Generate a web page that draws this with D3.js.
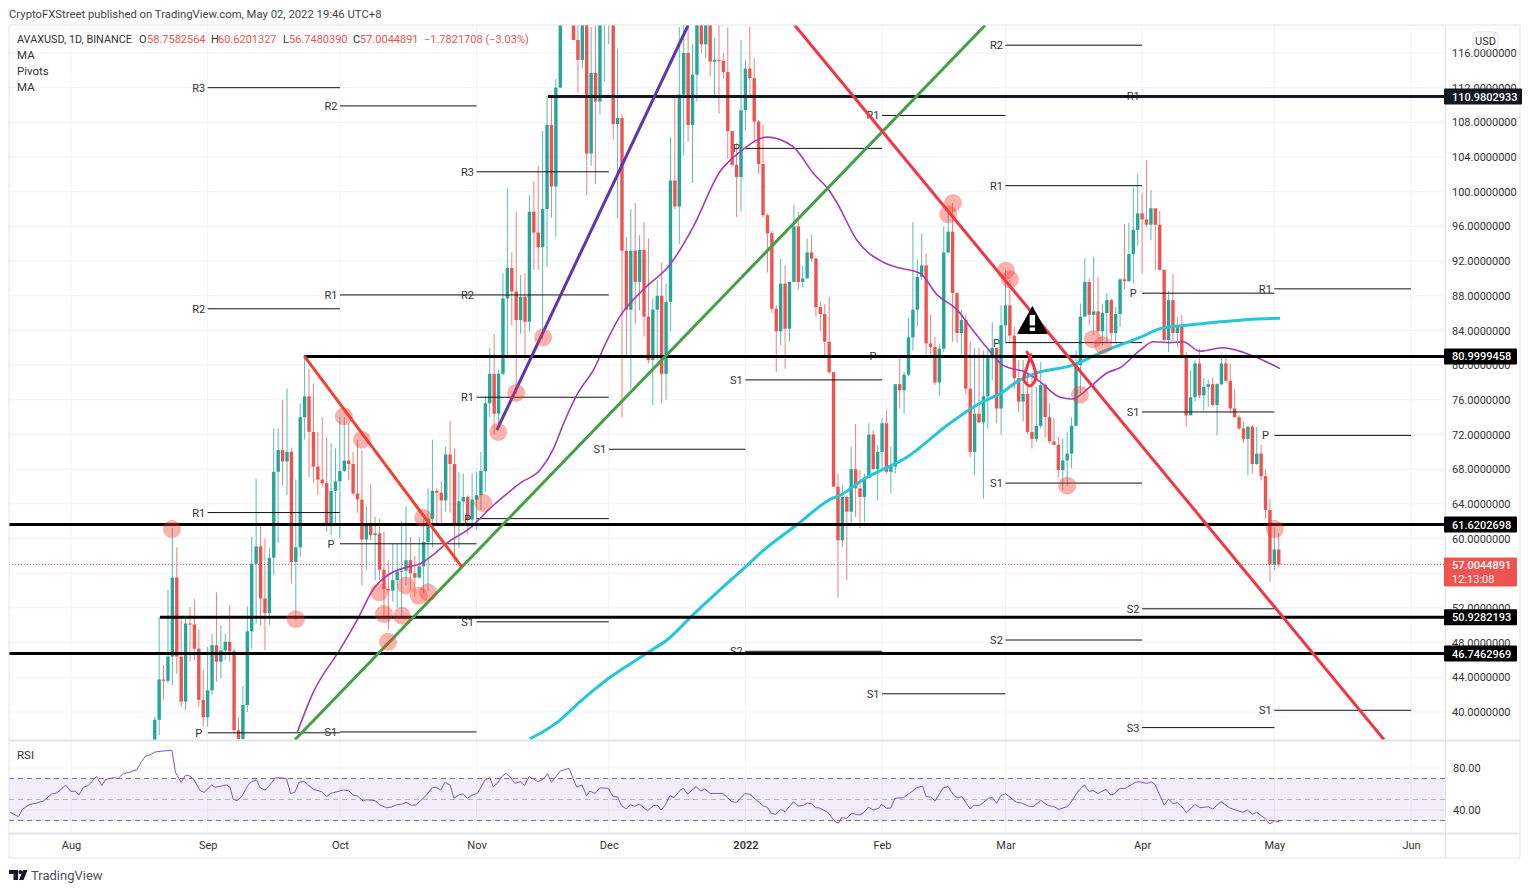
<!DOCTYPE html>
<html>
<head>
<meta charset="utf-8">
<title>AVAXUSD</title>
<script src="https://cdn.jsdelivr.net/npm/d3@7"></script>
<style>
    body { margin: 0; background: #fff; }
    text { font-family: Roboto, "Liberation Sans", sans-serif; }
</style>
</head>
<body>
<script>
// daily candles, first one is 2021-08-20, open = previous close
const firstDay = "2021-08-20";
const firstOpen = 36;
const closes = [
    39.1,43.75,43.6,46.4,55.5,46.4,41.2,50.2,50.1,47.3,41.4,39.4,42.5,47.7,45.8,47.1,48.1,47,37.9,36.9,
    40.8,49.3,57.1,59.1,53.1,51.4,57.8,67.7,70.2,68.9,70,57.3,59,74,76.4,72.3,68.3,66.8,66.4,61.5,
    65.5,66.6,67.8,69,68.6,65.2,64.5,59.9,61.6,60.4,60.6,56.4,54.2,54,55.2,56.2,56.3,57.5,56,55.5,
    56.8,59.6,62.3,65.5,65.3,64.4,69.7,68.6,61.6,64.3,64.8,62.2,64.5,65,67.8,75.6,79,74.4,79,87.7,
    91.2,88.5,85.2,87.9,85,97.7,95.3,93.6,98,107.7,100.6,112,122,128,135,117.5,115.2,122,104.4,113.7,
    110.4,119.5,122,124,107.8,108.5,93.2,86.4,93.2,89.6,93.3,85.6,80.6,86.4,88,79,87.3,101.3,98.3,111.2,
    116,107.7,113.5,122,117,122,115,115.2,115.1,113.8,107,103.1,101.7,109.4,114.2,113.1,108.1,103.2,97.3,95.2,
    86.5,83.9,89.4,84.2,89.6,96,89.6,90,93,92.3,86.7,85.9,82.7,79.2,66,59.8,64.8,63.1,68,65.8,
    64.8,67,72,68,70,73.3,67.7,68.3,77.8,77.1,78.9,83.2,86.4,90.2,91.5,82.5,82.1,78,81.9,93,
    95.4,88.3,83.7,85.2,77.3,70,74.4,73.4,76.4,80.8,82,75,84.6,86.9,83.4,78.5,75.8,76.7,72.3,71.5,
    73,77.7,74,71.2,70.8,67.9,69,69.8,73,80,85.6,89.6,85.8,86.2,83.9,86,87.5,83.7,85.9,89.9,
    89.7,92.8,95.6,97.5,96.8,96.2,98.1,96.2,91,82.9,87.5,83.7,84.6,81,74.2,76.3,80.2,76.5,77.5,77.8,
    75.4,77.8,80.2,78.2,75,74,72.7,71.5,72.9,68.6,69.8,67.2,63.3,57,58.75,57.0045
];
const highs = [
    39.5,51,45.4,54.1,61.2,59,51,51,52.1,53,49.5,44.8,47.5,49,53.8,50,49,52.3,47.3,39.4,
    43,52.2,60.2,66.9,61.7,60,58.9,72.7,72.7,76,77.3,70.5,66.8,75.6,81,79.6,77.9,72.3,74,71.7,
    71,70.4,74,74,73.3,70,71.4,70.2,63.7,66.3,62.5,62.3,60.8,57.5,59.4,59.4,62,63.7,60.2,58,
    60.2,62.3,65.8,71.4,65.8,66.6,70.6,73.6,70.4,67.7,67.5,65,67.5,67.7,70,76.4,82,83.6,79.5,90.6,
    100.4,93,97.7,90.4,90.6,99.6,101.2,103,107,111,111,113,125,135,140,136,122,125,124,119,
    119.2,122,126,128,125,116.5,109,94.8,98,98.7,95,96.5,94.6,87.7,89.8,91.8,89.4,106.3,110.9,119,
    120,121,117,125,125,125,122,117.7,120,116,119,107,105.6,117.5,115.2,119,115.4,108.3,107.7,97.5,
    95.5,86.9,92.3,91.5,89.6,98.5,97.7,91.5,94.6,95,92.4,87.3,87,87.9,79.2,67.5,66.2,65,70.6,73.2,
    67.9,67.5,73.3,72.5,70.8,73.9,74.8,70.6,77.8,81,79.2,85.4,96.5,92.2,95.2,92.9,85.8,83.3,82.5,96,
    97.5,98.7,88.3,86.4,85.8,82.7,82,82,81.7,81.7,85,82,86.9,91,89.8,84.4,80.6,80.6,79,78.6,
    77.5,80.4,77.9,75.6,73.9,71.7,71.5,72.3,74,81.7,87.1,92.3,90,92.5,90.2,87.1,88.3,87.7,86.7,90,
    96.3,96.4,100.5,102,99.9,103.6,100.2,98,97.8,91,88.6,90.5,85.6,85.8,81.5,79.4,80.6,81.9,78.5,78.3,
    78.6,77.9,81.3,81.3,80.2,77.2,74.2,73.5,73,73.1,72.9,70.8,68,64.6,61.3,60.62
];
const lows = [
    33,37.3,41.4,43.3,43.1,44.4,40.6,40.2,45.8,46,40.6,38.3,38.3,42,43.5,43.9,46,45.8,37.5,36,
    36.5,40,47.3,50.2,50,47.1,50,55.8,59.5,66.1,65,54.8,50.7,57.9,71.4,67.1,66.4,65,66,60.8,
    60.4,61.5,60,67.7,66.7,65,63,54.6,56.4,59.8,55.2,55.2,51,49.5,52.7,52,51,54.6,54,53.3,
    55.4,53.7,53.9,59,61.6,61.6,63.1,63,57.3,58.9,62,60.5,61.2,61,63.3,65.4,74,72,73,78.8,
    80.8,84.6,76.7,83.6,80.6,83.9,91,91,83,91.3,97,94.8,112,121,125,117.5,111.4,114.2,99.6,103,
    100.9,108.9,112.7,117,106,97,74,81,77.3,84.8,86.3,83.3,80.2,75.4,80.6,75.6,76,83.9,98,94,
    104.2,105.8,101,110.4,116,115.4,113.3,111,109,113,103.8,102.9,97.1,97.7,107.1,111,105.6,102.1,97,90.7,
    86,79.2,82.3,79.6,82.7,89.6,88.7,89,90.4,92,85.6,83.9,80.8,79,66,53.2,59,55.2,61.7,62.5,
    61.2,61.9,67.9,68,64.4,67.9,67.5,65.2,67.5,75,74.4,78.7,81.7,84.5,89.8,81.2,81,77.7,76.4,81.5,
    92.9,82.7,82.6,81.2,76.7,69.4,67.3,73.3,64.6,72.7,78.3,73.3,72,82.5,82.5,77.3,74.6,73.5,72,70.4,
    71.2,72.7,71.7,71,70.8,67.1,65.6,66.1,68.1,73.1,76.7,85.6,84.6,83.5,83.7,82.3,82.5,82.5,82.5,84.4,
    88.7,89.6,89.4,93.8,90.6,95.9,94.4,91,90.9,82.7,81.5,82.7,82.1,80.8,72.9,74.4,75.8,76.2,74.8,75.2,
    75.2,71.9,77.7,78,74.4,74,72.5,71,67.3,67.5,68.5,66.7,62.3,55,56.4,56.75
];

// moving averages, [days since 2021-08-01, value]
const maPurple = [[51.3,37.6],[54.9,42.2],[61,47.2],[64.9,50.6],[68.5,54.1],[71.9,55.8],[76.2,56.7],[79.2,57.1],[82.1,58.1],[85.3,59.5],
    [90.5,61.2],[95.1,63.5],[98.5,65],[101.9,66.4],[106.4,67.9],[109.3,70.2],[112.1,73.7],[114.8,76.6],[118.9,79.8],[121.1,82.3],
    [124.5,85.6],[129.8,88.7],[135.9,91.6],[141.1,95.9],[147.2,102.3],[151.8,104.6],[157.9,106.3],[163.8,105.2],[168.3,102.2],[172.2,100],
    [173.8,98.7],[178.3,94.4],[184.2,91.9],[188,91.2],[192.6,90.6],[196.5,88.1],[201,86.4],[203.3,84.9],[207.8,82],[211.4,80],
    [216.9,79.1],[219.8,78.1],[224.4,76.3],[227.1,76.1],[231.2,77.5],[235,79.1],[238,79.7],[242.5,81.7],[245.5,82.7],[249.3,82.6],
    [252.3,82.7],[256.1,81.6],[261.3,82],[265.9,81.5],[274.3,79.6]];
const maCyan = [[104.1,36.9],[110.3,38.8],[115.5,41.2],[122.3,44],[130.7,46.8],[135.2,48.3],[141.1,51.2],[147.9,54.4],[153.4,56.9],[156.3,58.3],
    [164.7,61.6],[172.9,64.7],[174.5,65],[179.7,66.8],[189.7,69.4],[199.4,73.3],[206.2,75.6],[211.4,76.9],[214.6,78.1],[219.1,79.1],
    [227.3,80],[233.4,81.4],[242.5,83.2],[247.7,84.3],[253.2,84.6],[260.7,85],[268.1,85.3],[274.3,85.4]];

// RSI
const rsiPoints = [[-13.8,37.8],[-11.9,33.6],[-11,40.9],[-9.3,45.4],[-7.8,46.6],[-6.3,48.5],[-4.4,55.2],[-3.1,56.5],[-1.2,63.8],[-0.1,57.7],
    [0.9,58],[1.8,54.3],[2.8,61.6],[3.9,63.2],[5.8,72],[7,63.2],[7.9,69.2],[9.6,70.8],[10.7,70.1],[11.9,74.9],
    [13,75.5],[14.9,78.4],[16,86],[16.9,91.4],[17.9,92.4],[19,95.2],[20.9,96.2],[22.9,96.8],[23.7,75.8],[25,66.3],
    [25.9,72.7],[26.8,72.7],[27.8,69.5],[29.3,58.4],[30.2,56.8],[31.9,63.8],[32.7,61.6],[35.3,63.8],[36.1,61.6],[36.8,50.1],
    [37.7,48.9],[38.7,52.7],[40.2,63.8],[41,67],[42.1,68.5],[42.9,61.2],[44,59],[44.8,62.2],[46.3,70.4],[47.3,70.8],
    [48.9,69.8],[49.8,55.8],[50.8,56.8],[51.7,66.3],[52.9,67.3],[55,59.6],[56.9,57.4],[58,52.7],[58.9,55.8],[61.8,59],
    [63,58.4],[64,54.3],[65,53.3],[66.3,48.5],[67,49.8],[69,48.9],[70.1,44.7],[71.6,42.2],[72.7,42.8],[73.9,45],
    [75,45.4],[76,47.3],[77.3,44.4],[78.3,45],[80.7,54.3],[82,61.6],[83,61.2],[83.9,59],[84.8,66.3],[86,63.8],
    [86.9,51.1],[88.2,54.9],[89,55.2],[89.9,51.1],[91.3,54.9],[92.2,55.8],[93.9,68.5],[95,70.8],[95.8,62.2],[96.7,65.4],
    [97.9,72.7],[98.8,74.9],[99.6,71.7],[100.7,65.4],[101.9,67],[102.9,63.2],[103.9,71.7],[106,67],[107.2,69.5],[108.1,74.6],
    [109,66.3],[111,77.1],[113,79.6],[114.7,61.9],[115.9,63.8],[117,53.6],[117.7,58],[118.9,55.8],[120,61.2],[121.9,60.6],
    [123,52.7],[124,52.4],[124.9,44.1],[126,40.9],[126.9,45],[127.9,43.5],[128.9,45.7],[130.8,39.3],[132.1,44.1],[133,44.7],
    [133.9,40],[134.8,44.7],[135.9,53.6],[136.8,51.7],[138.2,59],[138.9,60.6],[139.9,55.2],[141.8,62.2],[142.9,58],[143.8,60],
    [145,55.8],[147.9,55.8],[149.9,47.9],[151,47.3],[152.9,55.8],[154,54.9],[157,44.1],[158,42.5],[158.9,36.8],[159.9,35.8],
    [161,40.6],[162,38.4],[163.9,47.9],[165,43.8],[166.2,44.4],[167,46.6],[168,46],[168.9,42.2],[169.9,41.9],[171.8,37.4],
    [173.1,29.8],[174.1,27.3],[174.8,32.7],[176,32],[177.1,36.8],[179,35.2],[179.9,37.8],[180.9,42.8],[182,40],[183.2,41.6],
    [183.9,45.4],[185,41.6],[186,41.9],[186.9,51.1],[188.8,51.7],[190.7,57.4],[191.8,61.2],[193.2,62.8],[194,52.7],[195,52.4],
    [196,48.5],[197.9,61.2],[199,62.2],[200.2,54.3],[201.1,51.7],[202.1,52.7],[204,40.9],[204.9,44.7],[206.1,44.1],[208.1,51.1],
    [209,52],[210,46.3],[210.9,53.6],[212,55.5],[214.5,47.3],[215.7,46.6],[217.2,43.8],[218.3,43.1],[220,49.2],[221.7,44.1],
    [222.9,43.5],[224.1,40.6],[225.9,43.1],[226.6,45.7],[228.5,58],[229.9,63.8],[231,57.4],[231.8,58.7],[233,55.8],[234.8,59.7],
    [235.9,54.3],[236.8,55.8],[238,60.6],[239.1,60.3],[241.4,66.3],[242.4,67],[243.9,65.4],[245.2,66.6],[246,63.8],[248,44.7],
    [249,50.4],[250,46.3],[251,46.9],[251.7,44.7],[253.1,37.4],[255,45.4],[256.1,42.2],[258,43.1],[259,40.9],[260.9,47.9],
    [262.9,41.9],[265.8,37.8],[266.9,40],[268,35.8],[269,37.8],[270.9,32],[272,26.6],[273,29.8],[274.1,28.9]];

// monthly pivots
const monthStarts = ["2021-08-01","2021-09-01","2021-10-01","2021-11-01","2021-12-01","2022-01-01","2022-02-01","2022-03-01","2022-04-01","2022-05-01","2022-06-01"];
const monthLabels = ["Aug","Sep","Oct","Nov","Dec","2022","Feb","Mar","Apr","May","Jun"];
const pivotMonths = [1,1,1,1, 2,2,2,2, 3,3,3,3,3, 4, 5,5,5, 6,6,6, 7,7,7,7,7, 8,8,8,8,8, 9,9,9];
const pivotNames = ["R3","R2","R1","P", "R2","R1","P","S1", "R3","R2","R1","P","S1", "S1", "P","S1","S2", "R1","P","S1", "R2","R1","P","S1","S2", "R1","P","S1","S2","S3", "R1","P","S1"];
const pivotValues = [112,86.5,63,37.6, 109.9,88.1,59.4,37.7, 102.3,88.1,76.3,62.3,50.4, 70.3, 105,78.3,47, 108.8,81,42.1, 116.9,100.7,82.6,66.4,48.3, 111,88.3,74.6,51.9,38.2, 88.8,71.9,40.2];

// horizontal levels: value and first day they are drawn from (days since 2021-08-01)
const levelValues = [110.9802933, 80.9999458, 61.6202698, 50.9282193, 46.7462969];
const levelStart = [108.2, 52.9, -15, 20.2, -15];

// trend lines, [days, value]
const redLong = [[164.2,119.2],[297.9,36.8]];
const redShort = [[52.9,81.06],[88.7,56.7]];
const greenLine = [[50.8,36.8],[207.4,119.2]];
const purpleLine = [[96.6,72.5],[140,119.2]];
const loopMark = [[216.9,81.5],[218.2,80.2],[218.9,78.5],[217.6,77.6],[216.2,78.3],[216.9,79.8],[217.8,81.2]];
const touchPoints = [[22.9,61.1],[51,50.7],[61.9,74.1],[66,71.4],[69.9,53.8],[71,51.3],[71.9,48.1],[75.1,51.1],[76,54.6],[78.9,53.4],
    [81,53.8],[79.9,62.4],[93.5,64.1],[96.9,72.3],[101,76.8],[107.1,83.2],[200.1,98.7],[199,97.4],[212.1,90.9],[213,89.9],
    [231.8,83],[234.1,82.3],[228.9,76.6],[226,66.1],[273.1,61.1]];

const priceTicks = [116,112,108,104,100,96,92,88,84,80,76,72,68,64,60,52,48,44,40];
const rsiTicks = [80,40];
const lastPrice = 57.0044891;

const width = 1536, height = 892;
const pane = {left: 9, right: 1445, top: 25, bottom: 740, rsiBottom: 833, axisBottom: 858, outer: 1520};
const teal = "#26a69a", red = "#ef5350", gridColor = "#f0f3fa", borderColor = "#e0e3eb";

const parseDay = d3.utcParse("%Y-%m-%d");
const origin = parseDay("2021-08-01");
const dayDate = d => new Date(+origin + d * 864e5);

const x = d3.scaleUtc().domain([origin, parseDay("2022-06-01")]).range([71, 1411]);
const y = d3.scaleLinear().domain([116, 40]).range([53, 712]);
const yRsi = d3.scaleLinear().domain([80, 40]).range([768, 810]);
const xDay = d => x(dayDate(d));

const svg = d3.select("body").append("svg").attr("width", width).attr("height", height).style("display", "block");

svg.append("clipPath").attr("id", "mainClip").append("rect")
    .attr("x", pane.left).attr("y", pane.top).attr("width", pane.right - pane.left).attr("height", pane.bottom - pane.top);

// grid
const grid = svg.append("g").attr("stroke", gridColor);
grid.selectAll(".v").data(monthStarts).enter().append("line")
    .attr("x1", d => x(parseDay(d))).attr("x2", d => x(parseDay(d)))
    .attr("y1", pane.top).attr("y2", pane.rsiBottom);
grid.selectAll(".h").data(priceTicks.concat([56])).enter().append("line")
    .attr("x1", pane.left).attr("x2", pane.right).attr("y1", d => y(d)).attr("y2", d => y(d));
grid.selectAll(".r").data(rsiTicks).enter().append("line")
    .attr("x1", pane.left).attr("x2", pane.right).attr("y1", d => yRsi(d)).attr("y2", d => yRsi(d));

const main = svg.append("g").attr("clip-path", "url(#mainClip)");

// candles
const candleStart = d3.utcDay.count(origin, parseDay(firstDay));
const candles = closes.map((c, i) => ({
    day: candleStart + i,
    open: i ? closes[i - 1] : firstOpen,
    close: c,
    high: highs[i],
    low: lows[i]
}));
const candleG = main.append("g");
candleG.selectAll("line").data(candles).enter().append("line")
    .attr("x1", d => xDay(d.day)).attr("x2", d => xDay(d.day))
    .attr("y1", d => y(d.high)).attr("y2", d => y(d.low))
    .attr("stroke", d => d.close >= d.open ? teal : red)
    .attr("stroke-opacity", 0.75);
candleG.selectAll("rect").data(candles).enter().append("rect")
    .attr("x", d => xDay(d.day) - 1.7).attr("width", 3.4)
    .attr("y", d => y(Math.max(d.open, d.close)))
    .attr("height", d => Math.max(1, Math.abs(y(d.open) - y(d.close))))
    .attr("fill", d => d.close >= d.open ? teal : red);

// pivots
const pivotG = main.append("g");
pivotG.selectAll("line").data(pivotValues).enter().append("line")
    .attr("x1", (d, i) => x(parseDay(monthStarts[pivotMonths[i]])))
    .attr("x2", (d, i) => x(parseDay(monthStarts[pivotMonths[i] + 1])))
    .attr("y1", d => y(d)).attr("y2", d => y(d))
    .attr("stroke", "#111").attr("stroke-width", 1);
pivotG.selectAll("text").data(pivotValues).enter().append("text")
    .attr("x", (d, i) => x(parseDay(monthStarts[pivotMonths[i]])) - 9)
    .attr("y", d => y(d) + 4)
    .attr("text-anchor", "middle")
    .attr("font-size", 11)
    .attr("fill", "#333")
    .text((d, i) => pivotNames[i]);

// moving averages
const pointLine = d3.line().x(d => xDay(d[0])).y(d => y(d[1]));
const maLine = d3.line().x(d => xDay(d[0])).y(d => y(d[1])).curve(d3.curveMonotoneX);
main.append("path").datum(maPurple).attr("d", maLine).attr("fill", "none").attr("stroke", "#a23cb8").attr("stroke-width", 1.6);
main.append("path").datum(maCyan).attr("d", maLine).attr("fill", "none").attr("stroke", "#22c7d9").attr("stroke-width", 3);

// last price line
main.append("line").attr("x1", pane.left).attr("x2", pane.right)
    .attr("y1", y(lastPrice)).attr("y2", y(lastPrice))
    .attr("stroke", red).attr("stroke-dasharray", "1,2");

// levels
main.selectAll(".level").data(levelValues).enter().append("line")
    .attr("x1", (d, i) => xDay(levelStart[i])).attr("x2", pane.right)
    .attr("y1", d => y(d)).attr("y2", d => y(d))
    .attr("stroke", (d, i) => i === 0 ? "#131722" : "#000").attr("stroke-width", 3);

// drawn trend lines
[[greenLine, "#43a047"], [purpleLine, "#5e35b1"], [redLong, "#f23645"], [redShort, "#f4402f"]].forEach(t => {
    main.append("path").datum(t[0]).attr("d", pointLine).attr("fill", "none")
        .attr("stroke", t[1]).attr("stroke-width", 3);
});

// touch circles
main.selectAll(".touch").data(touchPoints).enter().append("circle")
    .attr("cx", d => xDay(d[0])).attr("cy", d => y(d[1])).attr("r", 9)
    .attr("fill", "#f23b30").attr("fill-opacity", 0.4);

// loop scribble and warning sign
main.append("path").datum(loopMark).attr("d", d3.line().x(d => xDay(d[0])).y(d => y(d[1])).curve(d3.curveCatmullRom))
    .attr("fill", "none").attr("stroke", "#f23645").attr("stroke-width", 3).attr("stroke-linecap", "round");
const warn = main.append("g").attr("transform", `translate(${xDay(218.1)},${y(85.1)})`);
warn.append("path").attr("d", "M0,-15 L15,12 Q15.5,13 14,13 L-14,13 Q-15.5,13 -15,12 Z").attr("fill", "#000");
warn.append("rect").attr("x", -2.7).attr("y", -6).attr("width", 5.4).attr("height", 10.5).attr("fill", "#fff");
warn.append("rect").attr("x", -2.7).attr("y", 6.5).attr("width", 5.4).attr("height", 3.5).attr("fill", "#fff");

// RSI pane
const rsiBand = svg.append("g");
rsiBand.append("rect").attr("x", pane.left).attr("width", pane.right - pane.left)
    .attr("y", yRsi(70)).attr("height", yRsi(30) - yRsi(70))
    .attr("fill", "#7e57c2").attr("fill-opacity", 0.1);
[[70, "#787b86"], [50, "#b2b5be"], [30, "#787b86"]].forEach(b => {
    rsiBand.append("line").attr("x1", pane.left).attr("x2", pane.right)
        .attr("y1", yRsi(b[0])).attr("y2", yRsi(b[0]))
        .attr("stroke", b[1]).attr("stroke-dasharray", "5,4");
});
rsiBand.append("path").datum(rsiPoints)
    .attr("d", d3.line().x(d => xDay(d[0])).y(d => yRsi(d[1])))
    .attr("fill", "none").attr("stroke", "#7e57c2").attr("stroke-width", 1);

// frame
const frame = svg.append("g").attr("stroke", borderColor).attr("fill", "none");
frame.append("rect").attr("x", pane.left).attr("y", pane.top)
    .attr("width", pane.outer - pane.left).attr("height", pane.axisBottom - pane.top).attr("stroke-width", 1);
frame.append("line").attr("x1", pane.left).attr("x2", pane.outer).attr("y1", pane.bottom + 0.5).attr("y2", pane.bottom + 0.5).attr("stroke-width", 2);
frame.append("line").attr("x1", pane.left).attr("x2", pane.outer).attr("y1", pane.rsiBottom + 0.5).attr("y2", pane.rsiBottom + 0.5).attr("stroke-width", 2);
frame.append("line").attr("x1", pane.right + 0.5).attr("x2", pane.right + 0.5).attr("y1", pane.top).attr("y2", pane.axisBottom);

// axes
const styleAxis = g => {
    g.select(".domain").remove();
    g.selectAll("text").attr("fill", "#333").attr("font-size", 11);
};
svg.append("g").attr("transform", `translate(${pane.right},0)`)
    .call(d3.axisRight(y).tickValues(priceTicks).tickSize(0).tickPadding(7).tickFormat(d3.format(".7f")))
    .call(styleAxis);
svg.append("g").attr("transform", `translate(${pane.right},0)`)
    .call(d3.axisRight(yRsi).tickValues(rsiTicks).tickSize(0).tickPadding(8).tickFormat(d3.format(".2f")))
    .call(styleAxis);
svg.append("g").attr("transform", `translate(0,${pane.rsiBottom + 2})`)
    .call(d3.axisBottom(x).tickValues(monthStarts.map(parseDay)).tickSize(0).tickPadding(6)
        .tickFormat((d, i) => monthLabels[i]))
    .call(styleAxis)
    .selectAll("text").attr("font-weight", (d, i) => monthLabels[i] === "2022" ? 600 : 400);

// price tags on the axis
const tags = svg.append("g");
levelValues.forEach((v, i) => {
    const w = i === 0 ? 78 : 73;
    tags.append("rect").attr("x", pane.right - 1).attr("y", y(v) - 8).attr("width", w).attr("height", 16)
        .attr("rx", 1).attr("fill", i === 0 ? "#131722" : "#000");
    tags.append("text").attr("x", pane.right + 7).attr("y", y(v) + 4).attr("font-size", 11)
        .attr("font-weight", 500).attr("fill", "#fff").text(d3.format(".7f")(v));
});
tags.append("rect").attr("x", pane.right - 1).attr("y", y(lastPrice) - 7).attr("width", 73).attr("height", 29)
    .attr("rx", 1).attr("fill", red);
tags.append("text").attr("x", pane.right + 7).attr("y", y(lastPrice) + 4).attr("font-size", 11)
    .attr("font-weight", 500).attr("fill", "#fff").text(d3.format(".7f")(lastPrice));
tags.append("text").attr("x", pane.right + 7).attr("y", y(lastPrice) + 18).attr("font-size", 11)
    .attr("fill", "#fff").text("12:13:08");

// currency button
svg.append("rect").attr("x", 1473).attr("y", 32).attr("width", 25).attr("height", 17).attr("rx", 4)
    .attr("fill", "#fff").attr("stroke", borderColor);
svg.append("text").attr("x", 1485.5).attr("y", 44.5).attr("text-anchor", "middle").attr("font-size", 11).attr("fill", "#333").text("USD");

// header and legend texts
svg.append("text").attr("x", 9).attr("y", 18).attr("font-size", 11.3).attr("fill", "#444")
    .text("CryptoFXStreet published on TradingView.com, May 02, 2022 19:46 UTC+8");

const legendParts = [[17, "AVAXUSD, 1D, BINANCE", "#333", 115], [139, "O", "#333"], [147, "58.7582564", red], [211, "H", "#333"], [218, "60.6201327", red],
    [283, "L", "#333"], [289, "56.7480390", red], [353, "C", "#333"], [360, "57.0044891", red], [424, "−1.7821708 (−3.03%)", red]];
legendParts.forEach(p => {
    const t = svg.append("text").attr("x", p[0]).attr("y", 43).attr("font-size", 11).attr("fill", p[2]).text(p[1]);
    if (p[3]) t.attr("textLength", p[3]).attr("lengthAdjust", "spacingAndGlyphs");
});
["MA", "Pivots", "MA"].forEach((t, i) => {
    svg.append("text").attr("x", 17).attr("y", 59 + i * 16).attr("font-size", 11.5).attr("fill", "#333").text(t);
});
svg.append("text").attr("x", 17).attr("y", 759).attr("font-size", 11.5).attr("fill", "#333").text("RSI");

// logo
svg.append("path").attr("d", "M9 870h9v10h-4.5v-6H9z M23 870h4.5l-4 10H19z").attr("fill", "#131722");
svg.append("circle").attr("cx", 20.3).attr("cy", 872).attr("r", 2).attr("fill", "#131722");
svg.append("text").attr("x", 31).attr("y", 880).attr("font-size", 13).attr("fill", "#50535e").text("TradingView");
</script>
</body>
</html>
